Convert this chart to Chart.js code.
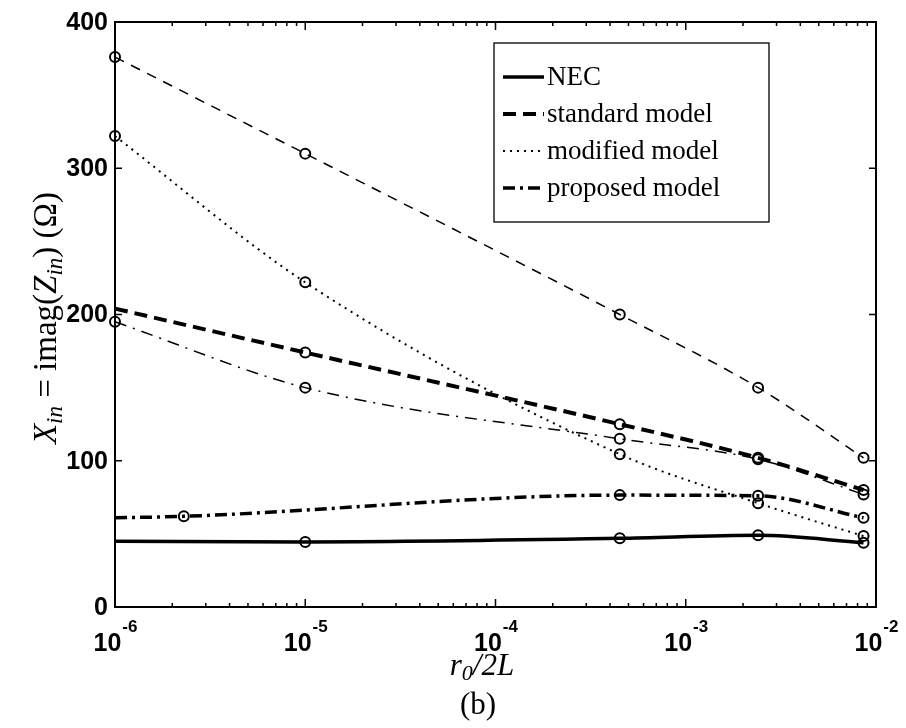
<!DOCTYPE html>
<html>
<head>
<meta charset="utf-8">
<script src="https://cdn.jsdelivr.net/npm/chart.js@4.4.1/dist/chart.umd.min.js"></script>
<style>
  html, body { margin: 0; padding: 0; background: #fff; }
  #wrap { width: 906px; height: 728px; }
</style>
</head>
<body>
<div id="wrap"><canvas id="xinChart" width="906" height="728"></canvas></div>
<script>
// r0/2L sample points
const ratioMain = [1e-6, 1e-5, 4.5e-4, 2.4e-3, 8.6e-3];
const ratioProposed = [1e-6, 2.3e-6, 4.5e-4, 2.4e-3, 8.6e-3];

// input reactance, ohms
const xNec = [45, 44.5, 47, 49, 44];
const xStandard = [204, 174, 125, 102, 80];
const xModified = [322, 222, 104.5, 71, 48.5];
const xProposed = [61, 62, 76.5, 76, 61];
// extra reference curves (not in the legend)
const xRefDashed = [376, 310, 200, 150, 102];
const xRefDashDot = [195, 150, 115, 101, 77];

const yTicks = [0, 100, 200, 300, 400];
const xDecades = [-6, -5, -4, -3, -2];

const SERIF = '"Liberation Serif", "Times New Roman", serif';
const SANS = '"Liberation Sans", Arial, sans-serif';

function pts(xs, ys) {
  return xs.map((x, i) => ({ x: x, y: ys[i] }));
}

function curve(label, xs, ys, width, dash, radius, inLegend) {
  return {
    label: label,
    data: pts(xs, ys),
    borderColor: '#000',
    borderWidth: width,
    borderDash: dash,
    cubicInterpolationMode: 'monotone',
    pointRadius: radius,
    pointHoverRadius: radius,
    pointBorderWidth: 2,
    pointBorderColor: '#000',
    pointBackgroundColor: 'rgba(0,0,0,0)',
    fill: false,
    clip: false,
    inLegend: inLegend
  };
}

// draws a row of text pieces (font / vertical shift) centred on x
function drawRuns(ctx, runs, x, y) {
  let total = 0;
  runs.forEach(r => { ctx.font = r.font; r.w = ctx.measureText(r.text).width; total += r.w; });
  let cx = x - total / 2;
  ctx.textAlign = 'left';
  ctx.textBaseline = 'alphabetic';
  runs.forEach(r => {
    ctx.font = r.font;
    ctx.fillText(r.text, cx, y + (r.dy || 0));
    cx += r.w;
  });
}

const axesPlugin = {
  id: 'matlabAxes',
  afterDatasetsDraw(chart) {
    const ctx = chart.ctx;
    const a = chart.chartArea;
    const xs = chart.scales.x, ys = chart.scales.y;
    ctx.save();
    ctx.strokeStyle = '#000';
    ctx.fillStyle = '#000';
    ctx.lineWidth = 2;
    ctx.setLineDash([]);
    ctx.strokeRect(a.left, a.top, a.right - a.left, a.bottom - a.top);

    // y ticks, both sides, pointing inward
    ctx.lineWidth = 1.5;
    ctx.beginPath();
    yTicks.forEach(v => {
      const py = ys.getPixelForValue(v);
      ctx.moveTo(a.left, py); ctx.lineTo(a.left + 7, py);
      ctx.moveTo(a.right, py); ctx.lineTo(a.right - 7, py);
    });
    // x ticks: decades and minor 2..9
    xDecades.forEach((d, i) => {
      const px = xs.getPixelForValue(Math.pow(10, d));
      ctx.moveTo(px, a.bottom); ctx.lineTo(px, a.bottom - 8);
      ctx.moveTo(px, a.top); ctx.lineTo(px, a.top + 8);
      if (i < xDecades.length - 1) {
        for (let k = 2; k <= 9; k++) {
          const mx = xs.getPixelForValue(k * Math.pow(10, d));
          ctx.moveTo(mx, a.bottom); ctx.lineTo(mx, a.bottom - 4);
          ctx.moveTo(mx, a.top); ctx.lineTo(mx, a.top + 4);
        }
      }
    });
    ctx.stroke();

    // y tick labels
    ctx.font = 'bold 25px ' + SANS;
    ctx.textAlign = 'right';
    ctx.textBaseline = 'middle';
    yTicks.forEach(v => ctx.fillText(String(v), a.left - 7, ys.getPixelForValue(v) + 1));

    // x tick labels 10^n
    xDecades.forEach(d => {
      const px = xs.getPixelForValue(Math.pow(10, d));
      ctx.font = 'bold 25px ' + SANS;
      const wBase = ctx.measureText('10').width;
      ctx.font = 'bold 17px ' + SANS;
      const exp = String(d);
      const wExp = ctx.measureText(exp).width;
      const x0 = px - (wBase + wExp) / 2;
      ctx.textAlign = 'left';
      ctx.textBaseline = 'alphabetic';
      ctx.font = 'bold 25px ' + SANS;
      ctx.fillText('10', x0, 651);
      ctx.font = 'bold 17px ' + SANS;
      ctx.fillText(exp, x0 + wBase + 1, 632);
    });

    // axis titles
    const it = 'italic 31px ' + SERIF, itSub = 'italic 22px ' + SERIF, up = '31px ' + SERIF;
    drawRuns(ctx, [
      { text: 'r', font: it },
      { text: '0', font: itSub, dy: 5 },
      { text: '/2L', font: it }
    ], 482, 675);
    drawRuns(ctx, [{ text: '(b)', font: up }], 478, 714);

    ctx.save();
    ctx.translate(56, 318);
    ctx.rotate(-Math.PI / 2);
    const itY = 'italic 33px ' + SERIF, subY = 'italic 23px ' + SERIF, upY = '33px ' + SERIF;
    drawRuns(ctx, [
      { text: 'X', font: itY },
      { text: 'in', font: subY, dy: 6 },
      { text: ' = imag(', font: upY },
      { text: 'Z', font: itY },
      { text: 'in', font: subY, dy: 6 },
      { text: ') (\u03A9)', font: upY }
    ], 0, 0);
    ctx.restore();

    // legend box
    const lx = 494, ly = 43, lw = 275, lh = 179;
    ctx.fillStyle = '#fff';
    ctx.fillRect(lx, ly, lw, lh);
    ctx.strokeStyle = '#000';
    ctx.lineWidth = 1.3;
    ctx.strokeRect(lx, ly, lw, lh);
    const rows = chart.data.datasets.filter(ds => ds.inLegend);
    rows.forEach((ds, i) => {
      const ry = 77 + i * 37;
      ctx.beginPath();
      ctx.lineWidth = ds.borderWidth;
      ctx.setLineDash(ds.borderDash);
      ctx.moveTo(503, ry);
      ctx.lineTo(544, ry);
      ctx.stroke();
      ctx.setLineDash([]);
      ctx.fillStyle = '#000';
      ctx.font = '27px ' + SERIF;
      ctx.textAlign = 'left';
      ctx.textBaseline = 'alphabetic';
      ctx.fillText(ds.label, 547, ry + 8);
    });
    ctx.restore();
  }
};

new Chart(document.getElementById('xinChart'), {
  type: 'line',
  data: {
    datasets: [
      curve('NEC', ratioMain, xNec, 3.5, [], [0, 5, 5, 5, 5], true),
      curve('standard model', ratioMain, xStandard, 4, [13, 7], [0, 5, 5, 5, 5], true),
      curve('modified model', ratioMain, xModified, 2, [2, 5], 5, true),
      curve('proposed model', ratioProposed, xProposed, 3.5, [12, 5, 3, 5], [0, 5, 5, 5, 5], true),
      curve('reference (dashed)', ratioMain, xRefDashed, 1.5, [10, 8], 5, false),
      curve('reference (dash-dot)', ratioMain, xRefDashDot, 1.5, [12, 7, 2, 7], 5, false)
    ]
  },
  options: {
    responsive: false,
    animation: false,
    events: [],
    layout: { padding: { left: 115, right: 30, top: 22, bottom: 121 } },
    plugins: { legend: { display: false }, tooltip: { enabled: false } },
    scales: {
      x: { type: 'logarithmic', min: 1e-6, max: 1e-2, display: false },
      y: { type: 'linear', min: 0, max: 400, display: false }
    }
  },
  plugins: [axesPlugin]
});
</script>
</body>
</html>
